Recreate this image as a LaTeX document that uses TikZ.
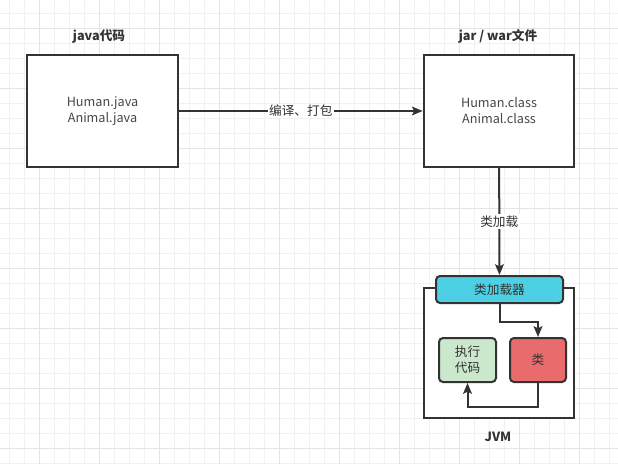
\documentclass[tikz,border=0pt]{standalone}
\usepackage{fontspec}
\setmainfont{Noto Sans CJK SC}
\usetikzlibrary{arrows.meta}

\definecolor{gridlight}{HTML}{F1F1F1}
\definecolor{gridheavy}{HTML}{E4E4E4}
\definecolor{inkdark}{HTML}{333333}
\definecolor{loadercyan}{HTML}{4DD0E3}
\definecolor{execgreen}{HTML}{CBE7CC}
\definecolor{classred}{HTML}{EA6B6B}

\tikzset{
  filebox/.style={draw=inkdark, line width=1.5pt, fill=white, minimum width=113pt,
    minimum height=84pt, align=center, text=inkdark!90, font=\fontsize{9.5}{12}\selectfont},
  title/.style={text=inkdark, font=\bfseries\fontsize{9.5}{12}\selectfont},
  smallbox/.style={draw=inkdark, line width=1.5pt, rounded corners=3pt, align=center,
    text=inkdark, font=\fontsize{9.5}{12}\selectfont},
  flow/.style={draw=inkdark, line width=1.5pt, -{Stealth[length=8pt,width=6.5pt,inset=1.5pt]}},
  flowlabel/.style={fill=white, inner sep=1pt, text=inkdark, font=\fontsize{9.5}{12}\selectfont}
}

\begin{document}
\begin{tikzpicture}[x=0.75pt, y=-0.75pt]
  %%%%% START %%%%%
  \useasboundingbox (0,0) rectangle (618,464);
  \fill[white] (0,0) rectangle (618,464);

  % grid
  \foreach \gx in {9.3,24.3,...,618} \draw[gridlight, line width=0.75pt] (\gx,0) -- (\gx,464);
  \foreach \gy in {13.3,28.3,...,464} \draw[gridlight, line width=0.75pt] (0,\gy) -- (618,\gy);
  \foreach \gx in {39.3,99.3,...,618} \draw[gridheavy, line width=0.75pt] (\gx,0) -- (\gx,464);
  \foreach \gy in {28.3,88.3,...,464} \draw[gridheavy, line width=0.75pt] (0,\gy) -- (618,\gy);

  % files
  \node[filebox] (java) at (102.5,111) {Human.java\\Animal.java};
  \node[title] (javatitle) at (99,36) {java代码};
  \node[filebox] (jar) at (499,111) {Human.class\\Animal.class};
  \node[title] (jartitle) at (498,36) {jar / war文件};

  % JVM
  \node[draw=inkdark, line width=1.5pt, fill=white, minimum width=112.5pt,
    minimum height=97.5pt] (jvm) at (499,353) {};
  \node[title] (jvmtitle) at (498,437) {JVM};
  \node[smallbox, fill=loadercyan, minimum width=95.25pt, minimum height=20.25pt]
    (loader) at (499.5,289.5) {类加载器};
  \node[smallbox, fill=execgreen, minimum width=42.75pt, minimum height=33pt]
    (exec) at (467.5,360) {执行\\代码};
  \node[smallbox, fill=classred, minimum width=42pt, minimum height=33pt]
    (cls) at (538,360) {类};

  % connectors
  \draw[flow] (java) -- node[flowlabel] {编译、打包} (jar);
  \draw[flow] (jar) -- node[flowlabel] {类加载} (loader);
  \draw[flow] (loader.south) -- ++(0,17.5) -| (cls.north);
  \draw[flow] (cls.south) -- ++(0,23.5) -| (exec.south);
  %%%%% END %%%%%
\end{tikzpicture}
\end{document}
